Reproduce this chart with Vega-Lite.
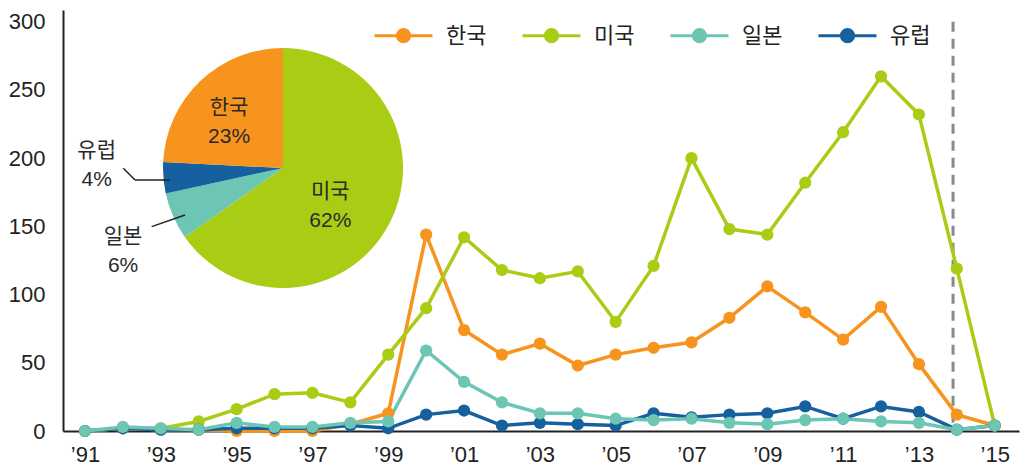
{
  "$schema": "https://vega.github.io/schema/vega-lite/v6.json",
  "width": 956,
  "height": 421,
  "autosize": {"type": "none"},
  "padding": {"left": 63, "top": 10, "right": 5, "bottom": 42},
  "background": "white",
  "config": {"view": {"stroke": null}},
  "datasets": {
    "trend": [
      {"year": 1991, "region": "한국", "value": 0},
      {"year": 1992, "region": "한국", "value": 2},
      {"year": 1993, "region": "한국", "value": 1},
      {"year": 1994, "region": "한국", "value": 1},
      {"year": 1995, "region": "한국", "value": 0},
      {"year": 1996, "region": "한국", "value": 0},
      {"year": 1997, "region": "한국", "value": 0},
      {"year": 1998, "region": "한국", "value": 5},
      {"year": 1999, "region": "한국", "value": 13},
      {"year": 2000, "region": "한국", "value": 144},
      {"year": 2001, "region": "한국", "value": 74},
      {"year": 2002, "region": "한국", "value": 56},
      {"year": 2003, "region": "한국", "value": 64},
      {"year": 2004, "region": "한국", "value": 48},
      {"year": 2005, "region": "한국", "value": 56},
      {"year": 2006, "region": "한국", "value": 61},
      {"year": 2007, "region": "한국", "value": 65},
      {"year": 2008, "region": "한국", "value": 83},
      {"year": 2009, "region": "한국", "value": 106},
      {"year": 2010, "region": "한국", "value": 87},
      {"year": 2011, "region": "한국", "value": 67},
      {"year": 2012, "region": "한국", "value": 91},
      {"year": 2013, "region": "한국", "value": 49},
      {"year": 2014, "region": "한국", "value": 12},
      {"year": 2015, "region": "한국", "value": 4},
      {"year": 1991, "region": "미국", "value": 0},
      {"year": 1992, "region": "미국", "value": 2},
      {"year": 1993, "region": "미국", "value": 2},
      {"year": 1994, "region": "미국", "value": 7},
      {"year": 1995, "region": "미국", "value": 16},
      {"year": 1996, "region": "미국", "value": 27},
      {"year": 1997, "region": "미국", "value": 28},
      {"year": 1998, "region": "미국", "value": 21},
      {"year": 1999, "region": "미국", "value": 56},
      {"year": 2000, "region": "미국", "value": 90},
      {"year": 2001, "region": "미국", "value": 142},
      {"year": 2002, "region": "미국", "value": 118},
      {"year": 2003, "region": "미국", "value": 112},
      {"year": 2004, "region": "미국", "value": 117},
      {"year": 2005, "region": "미국", "value": 80},
      {"year": 2006, "region": "미국", "value": 121},
      {"year": 2007, "region": "미국", "value": 200},
      {"year": 2008, "region": "미국", "value": 148},
      {"year": 2009, "region": "미국", "value": 144},
      {"year": 2010, "region": "미국", "value": 182},
      {"year": 2011, "region": "미국", "value": 219},
      {"year": 2012, "region": "미국", "value": 260},
      {"year": 2013, "region": "미국", "value": 232},
      {"year": 2014, "region": "미국", "value": 119},
      {"year": 2015, "region": "미국", "value": 4},
      {"year": 1991, "region": "유럽", "value": 0},
      {"year": 1992, "region": "유럽", "value": 2},
      {"year": 1993, "region": "유럽", "value": 1},
      {"year": 1994, "region": "유럽", "value": 1},
      {"year": 1995, "region": "유럽", "value": 2},
      {"year": 1996, "region": "유럽", "value": 2},
      {"year": 1997, "region": "유럽", "value": 2},
      {"year": 1998, "region": "유럽", "value": 4},
      {"year": 1999, "region": "유럽", "value": 2},
      {"year": 2000, "region": "유럽", "value": 12},
      {"year": 2001, "region": "유럽", "value": 15},
      {"year": 2002, "region": "유럽", "value": 4},
      {"year": 2003, "region": "유럽", "value": 6},
      {"year": 2004, "region": "유럽", "value": 5},
      {"year": 2005, "region": "유럽", "value": 4},
      {"year": 2006, "region": "유럽", "value": 13},
      {"year": 2007, "region": "유럽", "value": 10},
      {"year": 2008, "region": "유럽", "value": 12},
      {"year": 2009, "region": "유럽", "value": 13},
      {"year": 2010, "region": "유럽", "value": 18},
      {"year": 2011, "region": "유럽", "value": 9},
      {"year": 2012, "region": "유럽", "value": 18},
      {"year": 2013, "region": "유럽", "value": 14},
      {"year": 2014, "region": "유럽", "value": 1},
      {"year": 2015, "region": "유럽", "value": 4},
      {"year": 1991, "region": "일본", "value": 0},
      {"year": 1992, "region": "일본", "value": 3},
      {"year": 1993, "region": "일본", "value": 2},
      {"year": 1994, "region": "일본", "value": 1},
      {"year": 1995, "region": "일본", "value": 6},
      {"year": 1996, "region": "일본", "value": 3},
      {"year": 1997, "region": "일본", "value": 3},
      {"year": 1998, "region": "일본", "value": 6},
      {"year": 1999, "region": "일본", "value": 7},
      {"year": 2000, "region": "일본", "value": 59},
      {"year": 2001, "region": "일본", "value": 36},
      {"year": 2002, "region": "일본", "value": 21},
      {"year": 2003, "region": "일본", "value": 13},
      {"year": 2004, "region": "일본", "value": 13},
      {"year": 2005, "region": "일본", "value": 9},
      {"year": 2006, "region": "일본", "value": 8},
      {"year": 2007, "region": "일본", "value": 9},
      {"year": 2008, "region": "일본", "value": 6},
      {"year": 2009, "region": "일본", "value": 5},
      {"year": 2010, "region": "일본", "value": 8},
      {"year": 2011, "region": "일본", "value": 9},
      {"year": 2012, "region": "일본", "value": 7},
      {"year": 2013, "region": "일본", "value": 6},
      {"year": 2014, "region": "일본", "value": 1},
      {"year": 2015, "region": "일본", "value": 4}
    ],
    "pie": [
      {"region": "미국", "share": 62, "ord": 1, "label": "미국\n62%"},
      {"region": "일본", "share": 6, "ord": 2, "label": "일본\n6%"},
      {"region": "유럽", "share": 4, "ord": 3, "label": "유럽\n4%"},
      {"region": "한국", "share": 23, "ord": 4, "label": "한국\n23%"}
    ]
  },
  "layer": [
    {
      "data": {"name": "pie"},
      "mark": {"type": "arc", "radius": 120},
      "encoding": {
        "theta": {"field": "share", "type": "quantitative", "stack": true},
        "order": {"field": "ord", "type": "quantitative"},
        "color": {"field": "region", "type": "nominal",
          "scale": {"domain": ["한국", "미국", "일본", "유럽"], "range": ["#F7941D", "#A8CD14", "#6CC6B3", "#17609F"]}},
        "x": {"datum": 1996.224, "type": "quantitative"},
        "y": {"datum": 192.8, "type": "quantitative"}
      }
    },
    {
      "data": {"name": "pie"},
      "mark": {"type": "text", "radius": 71, "dx": -5, "dy": -9, "font": "Liberation Sans, Noto Sans CJK KR", "fontSize": 21, "lineHeight": 29, "lineBreak": "\n", "align": "center", "baseline": "middle", "fill": "#2a2a2a"},
      "encoding": {
        "theta": {"field": "share", "type": "quantitative", "stack": true},
        "order": {"field": "ord", "type": "quantitative"},
        "x": {"datum": 1996.224, "type": "quantitative"},
        "y": {"datum": 192.8, "type": "quantitative"},
        "text": {"condition": {"test": "datum.region === '한국'", "field": "label"}, "value": ""}
      }
    },
    {
      "data": {"name": "pie"},
      "mark": {"type": "text", "radius": 59, "dx": -5, "dy": -3, "font": "Liberation Sans, Noto Sans CJK KR", "fontSize": 21, "lineHeight": 29, "lineBreak": "\n", "align": "center", "baseline": "middle", "fill": "#2a2a2a"},
      "encoding": {
        "theta": {"field": "share", "type": "quantitative", "stack": true},
        "order": {"field": "ord", "type": "quantitative"},
        "x": {"datum": 1996.224, "type": "quantitative"},
        "y": {"datum": 192.8, "type": "quantitative"},
        "text": {"condition": {"test": "datum.region === '미국'", "field": "label"}, "value": ""}
      }
    },
    {
      "data": {"name": "pie"},
      "mark": {"type": "text", "radius": 185, "dx": -2, "dy": -32, "font": "Liberation Sans, Noto Sans CJK KR", "fontSize": 21, "lineHeight": 29, "lineBreak": "\n", "align": "center", "baseline": "middle", "fill": "#2a2a2a"},
      "encoding": {
        "theta": {"field": "share", "type": "quantitative", "stack": true},
        "order": {"field": "ord", "type": "quantitative"},
        "x": {"datum": 1996.224, "type": "quantitative"},
        "y": {"datum": 192.8, "type": "quantitative"},
        "text": {"condition": {"test": "datum.region === '유럽'", "field": "label"}, "value": ""}
      }
    },
    {
      "data": {"name": "pie"},
      "mark": {"type": "text", "radius": 179, "dx": 4, "dy": -3, "font": "Liberation Sans, Noto Sans CJK KR", "fontSize": 21, "lineHeight": 29, "lineBreak": "\n", "align": "center", "baseline": "middle", "fill": "#2a2a2a"},
      "encoding": {
        "theta": {"field": "share", "type": "quantitative", "stack": true},
        "order": {"field": "ord", "type": "quantitative"},
        "x": {"datum": 1996.224, "type": "quantitative"},
        "y": {"datum": 192.8, "type": "quantitative"},
        "text": {"condition": {"test": "datum.region === '일본'", "field": "label"}, "value": ""}
      }
    },
    {
      "data": {"values": [{}]},
      "mark": {"type": "rule", "color": "#222", "strokeWidth": 1.5},
      "encoding": {
        "x": {"datum": 1992.01, "type": "quantitative"},
        "y": {"datum": 192.6, "type": "quantitative"},
        "x2": {"datum": 1992.32},
        "y2": {"datum": 184.0}
      }
    },
    {
      "data": {"values": [{}]},
      "mark": {"type": "rule", "color": "#222", "strokeWidth": 1.5},
      "encoding": {
        "x": {"datum": 1992.32, "type": "quantitative"},
        "y": {"datum": 184.0, "type": "quantitative"},
        "x2": {"datum": 1993.24},
        "y2": {"datum": 184.0}
      }
    },
    {
      "data": {"values": [{}]},
      "mark": {"type": "rule", "color": "#222", "strokeWidth": 1.5},
      "encoding": {
        "x": {"datum": 1992.76, "type": "quantitative"},
        "y": {"datum": 149.8, "type": "quantitative"},
        "x2": {"datum": 1993.64},
        "y2": {"datum": 158.3}
      }
    },
    {
      "data": {"values": [{}]},
      "mark": {"type": "rule", "color": "#8a8a8a", "strokeWidth": 3, "strokeDash": [10, 7]},
      "encoding": {
        "x": {"datum": 2013.9, "type": "quantitative"},
        "y": {"datum": 300, "type": "quantitative"},
        "y2": {"datum": 0}
      }
    },
    {
      "data": {"name": "trend"},
      "mark": {"type": "line", "strokeWidth": 3.5},
      "encoding": {
        "x": {"field": "year", "type": "quantitative",
          "scale": {"domain": [1990.42, 2015.64], "nice": false, "zero": false},
          "axis": {"title": null, "grid": false, "ticks": false, "tickSize": 0, "values": [1991, 1993, 1995, 1997, 1999, 2001, 2003, 2005, 2007, 2009, 2011, 2013, 2015],
            "labelExpr": "'’' + slice(format(datum.value, 'd'), 2)",
            "labelFont": "Liberation Sans", "labelFontSize": 22, "labelColor": "#222", "labelPadding": 13,
            "domainColor": "#222", "domainWidth": 2}},
        "y": {"field": "value", "type": "quantitative",
          "scale": {"domain": [0, 308.6], "nice": false},
          "axis": {"title": null, "grid": false, "ticks": false, "tickSize": 0, "values": [0, 50, 100, 150, 200, 250, 300],
            "labelFont": "Liberation Sans", "labelFontSize": 22, "labelColor": "#222", "labelPadding": 18,
            "domainColor": "#222", "domainWidth": 2}},
        "color": {"field": "region", "type": "nominal",
          "scale": {"domain": ["한국", "미국", "일본", "유럽"], "range": ["#F7941D", "#A8CD14", "#6CC6B3", "#17609F"]},
          "legend": {"orient": "none", "legendX": 310, "legendY": -5, "direction": "horizontal", "columns": 4, "title": null,
            "symbolType": "M-1,0L1,0M0.21,0A0.21,0.21,0,1,1,-0.21,0A0.21,0.21,0,1,1,0.21,0Z",
            "symbolSize": 3364, "symbolStrokeWidth": 3,
            "labelFont": "Noto Sans CJK KR", "labelFontSize": 22, "labelColor": "#222", "labelOffset": 12,
            "columnPadding": 29, "gridAlign": "all", "padding": 0, "offset": 0,
            "encode": {"symbols": {"update": {"fill": {"scale": "color", "field": "value"}, "stroke": {"scale": "color", "field": "value"}, "opacity": {"value": 1}}}}}}
      }
    },
    {
      "data": {"name": "trend"},
      "mark": {"type": "circle", "size": 150, "opacity": 1},
      "encoding": {
        "x": {"field": "year", "type": "quantitative"},
        "y": {"field": "value", "type": "quantitative"},
        "color": {"field": "region", "type": "nominal",
          "scale": {"domain": ["한국", "미국", "일본", "유럽"], "range": ["#F7941D", "#A8CD14", "#6CC6B3", "#17609F"]}}
      }
    }
  ]
}
